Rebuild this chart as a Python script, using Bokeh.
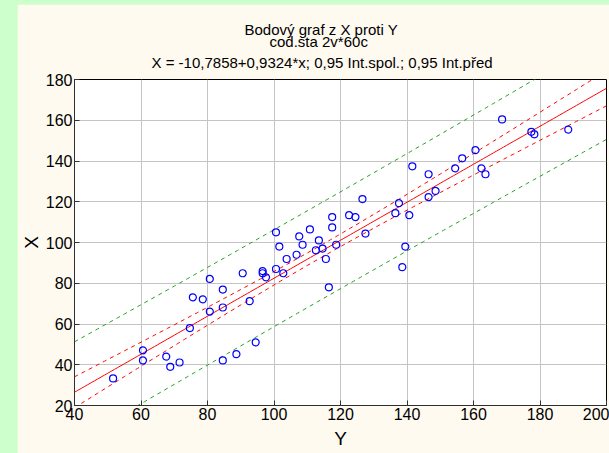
import numpy as np
from bokeh.plotting import figure
from bokeh.models import Range1d, Title
from bokeh.embed import file_html
from bokeh.resources import INLINE

# ---- data ----
y_vals = [51.6, 60.6, 60.6, 67.6, 68.8, 71.6, 74.7, 75.6, 78.6, 80.7,
          80.7, 84.6, 84.6, 84.6, 88.7, 90.6, 92.7, 94.5, 96.6, 96.6,
          97.6, 100.6, 102.8, 103.8, 106.8, 100.6, 101.6, 107.6, 108.6, 110.8,
          112.6, 113.5, 114.6, 115.6, 116.5, 117.5, 117.5, 118.7, 122.6, 124.5,
          126.6, 127.5, 136.5, 137.6, 140.7, 138.6, 139.5, 141.6, 146.5, 146.5,
          148.6, 154.5, 156.6, 160.6, 162.4, 163.6, 168.6, 177.4, 178.3, 188.5]
x_vals = [33.3, 47.1, 42.1, 44.0, 39.0, 41.1, 58.0, 73.1, 72.1, 82.1,
          66.1, 76.9, 68.1, 42.1, 45.2, 84.9, 71.2, 51.0, 86.0, 84.9,
          82.9, 87.0, 84.9, 91.9, 94.0, 105.0, 98.0, 103.0, 98.9, 106.4,
          96.2, 101.0, 97.0, 91.9, 78.0, 112.5, 107.4, 98.9, 113.4, 112.5,
          121.3, 104.4, 114.4, 119.3, 113.4, 87.9, 98.0, 137.4, 133.5, 122.3,
          125.3, 136.4, 141.3, 145.3, 136.4, 133.5, 160.4, 154.3, 153.1, 155.4]
intercept = -10.7858
slope = 0.9324
t_crit = 2.0017
title_lines = ["Bodový graf z X proti Y",
               "cod.sta 2v*60c",
               "X = -10,7858+0,9324*x; 0,95 Int.spol.; 0,95 Int.před"]
x_ticks = [40, 60, 80, 100, 120, 140, 160, 180, 200]
y_ticks = [20, 40, 60, 80, 100, 120, 140, 160, 180]

FONT = "Liberation Sans"
CREAM = "#FFFAF0"

xv = np.array(y_vals)
yv = np.array(x_vals)
n = len(xv)
resid = yv - (intercept + slope * xv)
s = np.sqrt(np.sum(resid ** 2) / (n - 2))
xbar = xv.mean()
sxx = np.sum((xv - xbar) ** 2)

gx = np.linspace(40, 200, 161)
fit = intercept + slope * gx
conf = t_crit * s * np.sqrt(1.0 / n + (gx - xbar) ** 2 / sxx)
pred = t_crit * s * np.sqrt(1.0 + 1.0 / n + (gx - xbar) ** 2 / sxx)

p = figure(width=592, height=449, x_range=Range1d(40, 200), y_range=Range1d(20, 180),
           output_backend="svg", toolbar_location=None,
           min_border_left=57, min_border_right=3, min_border_top=75, min_border_bottom=48,
           background_fill_color="white", border_fill_color=CREAM,
           outline_line_color="black", outline_line_width=1)

p.xaxis.ticker = x_ticks
p.yaxis.ticker = y_ticks
for ax in (p.xaxis, p.yaxis):
    ax.major_label_text_font = FONT
    ax.major_label_text_font_size = "16px"
    ax.major_label_text_color = "black"
    ax.axis_label_text_font = FONT
    ax.axis_label_text_font_size = "19px"
    ax.axis_label_text_font_style = "normal"
    ax.axis_label_text_color = "black"
    ax.axis_line_color = "#303030"
    ax.major_tick_in = 5
    ax.major_tick_out = 0
    ax.minor_tick_in = 2
    ax.minor_tick_out = 0
    ax.major_tick_line_color = "#303030"
    ax.minor_tick_line_color = "#303030"
    ax.major_label_standoff = 2
p.xaxis.axis_label = "Y"
p.yaxis.axis_label = "X"
p.xaxis.axis_label_standoff = 5
p.yaxis.axis_label_standoff = 1

p.grid.grid_line_color = "#C4C4C4"
p.grid.grid_line_width = 1

# prediction band
p.line(gx, fit + pred, line_color="#22A022", line_dash="4 4", line_width=1)
p.line(gx, fit - pred, line_color="#22A022", line_dash="4 4", line_width=1)
# confidence band
p.line(gx, fit + conf, line_color="#FF0000", line_dash="4 4", line_width=1)
p.line(gx, fit - conf, line_color="#FF0000", line_dash="4 4", line_width=1)
# fit
p.line(gx, fit, line_color="#FF0000", line_width=1)
# points
p.scatter(xv, yv, marker="circle", size=7, fill_color=None, line_color="#0000FF", line_width=1.2)

# titles: added from the frame outwards (last line first)
title_offsets = [170, 195, 77]
title_standoffs = [-3, -12, 17]
for txt, off, so in reversed(list(zip(title_lines, title_offsets, title_standoffs))):
    p.add_layout(Title(text=txt, align="left", offset=off, standoff=so,
                       text_font=FONT, text_font_size="15px", text_font_style="normal",
                       text_color="black"), "above")

html = file_html(p, INLINE)
style = "<style>html,body{background-color:#CCFFCC !important;} body{margin:4px 0 0 17px !important;}</style>"
html = html.replace("</head>", style + "</head>", 1)
open("out.html", "w").write(html)
